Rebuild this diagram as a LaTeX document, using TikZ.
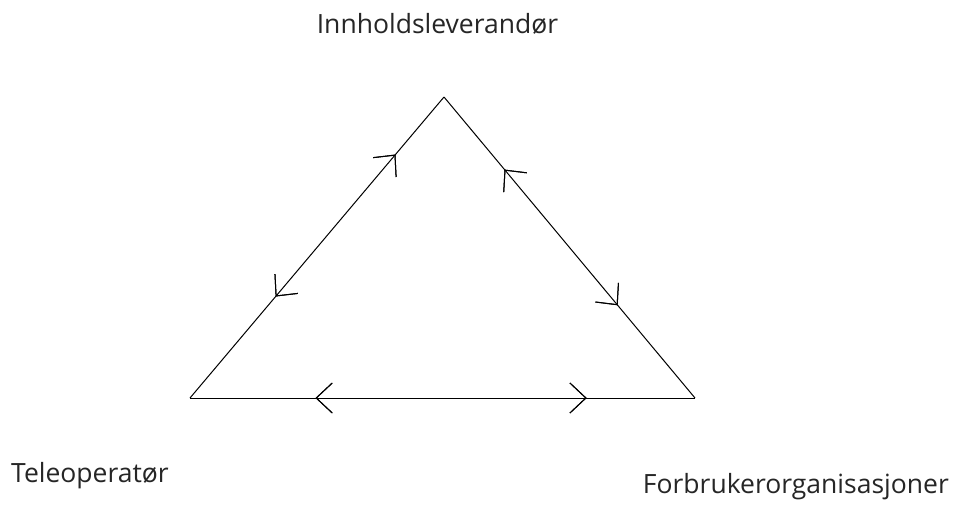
\documentclass[tikz,border=0pt]{standalone}
\usepackage{fontspec}
\setmainfont{Open Sans}
\usetikzlibrary{decorations.markings}
\begin{document}
\begin{tikzpicture}[x=1pt,y=-1pt,
  lbl/.style={font=\fontsize{26.5}{30}\selectfont, inner sep=0pt, text=black!85},
  edge/.style={line width=1pt},
  chev/.style={decoration={markings, mark=at position #1 with {\draw[line width=1pt] (-16,15) -- (0,0) -- (-16,-15);}}, postaction={decorate}},
  revchev/.style={decoration={markings, mark=at position #1 with {\draw[line width=1pt] (16,15) -- (0,0) -- (16,-15);}}, postaction={decorate}}
]
\useasboundingbox (0,0) rectangle (954,504);
\fill[white] (0,0) rectangle (954,504);
\coordinate (T) at (444,97);
\coordinate (L) at (190,398);
\coordinate (R) at (695,398);
\node[lbl, anchor=base] (inn) at (437.5,33) {Innholdsleverandør};
\node[lbl, anchor=base west] (tele) at (11,482) {Teleoperatør};
\node[lbl, anchor=base east] (forb) at (949,493) {Forbrukerorganisasjoner};
\draw[edge, chev=0.807, revchev=0.339] (L) -- (T);
\draw[edge, revchev=0.243, chev=0.69] (T) -- (R);
\draw[edge, revchev=0.25, chev=0.784] (L) -- (R);
\end{tikzpicture}
\end{document}
